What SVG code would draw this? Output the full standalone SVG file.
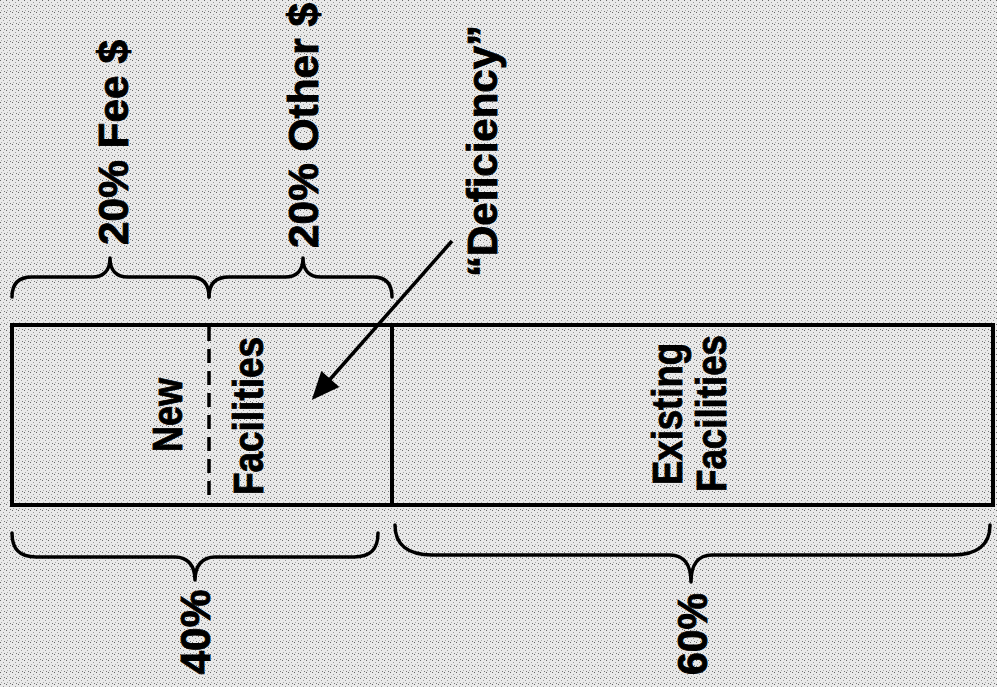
<svg xmlns="http://www.w3.org/2000/svg" width="997" height="687" viewBox="0 0 997 687">
<style>
.lbl{font-family:"Liberation Sans",Arial,Helvetica,sans-serif;font-weight:bold;font-size:42px;fill:#000;stroke:#000;stroke-width:0.9;text-anchor:middle}
.box{fill:none;stroke:#000;stroke-width:4}
.brace{fill:none;stroke:#000;stroke-width:3.5;stroke-linecap:round;stroke-linejoin:round}
.conn{fill:none;stroke:#000;stroke-width:3.5}
</style>
<defs>
<pattern id="stip" width="6" height="6" patternUnits="userSpaceOnUse">
<rect width="6" height="6" fill="#e9e9e9"/>
<rect x="0" y="0" width="1" height="1" fill="#666"/>
<rect x="3" y="2" width="1" height="1" fill="#999"/>
<rect x="1" y="4" width="1" height="1" fill="#aaa"/>
<rect x="4" y="5" width="1" height="1" fill="#777"/>
</pattern>
<marker id="ah" viewBox="-10 -14 32 28" refX="0" refY="0" markerWidth="32" markerHeight="28" markerUnits="userSpaceOnUse" orient="auto" overflow="visible">
<path d="M-8,-12 L20,0 L-8,12 Z" fill="#000"/>
</marker>
</defs>
<rect width="997" height="687" fill="url(#stip)"/>

<g id="new-facilities">
<rect class="box" x="12" y="325" width="380" height="180"/>
<line x1="209" y1="327" x2="209" y2="503" stroke="#000" stroke-width="3.5" stroke-dasharray="14 8"/>
<text class="lbl" transform="translate(182,415) rotate(-90)" textLength="74" lengthAdjust="spacingAndGlyphs">New</text>
<text class="lbl" transform="translate(263,416) rotate(-90)" textLength="158" lengthAdjust="spacingAndGlyphs">Facilities</text>
</g>

<g id="existing-facilities">
<rect class="box" x="392" y="325" width="601" height="180"/>
<text class="lbl" transform="translate(682,414) rotate(-90)" textLength="142" lengthAdjust="spacingAndGlyphs">Existing</text>
<text class="lbl" transform="translate(726,413.5) rotate(-90)" textLength="157" lengthAdjust="spacingAndGlyphs">Facilities</text>
</g>

<g id="fee-brace">
<path class="brace" d="M12,297 C12,284 18,277 32,277 L92,277 C104,277 110,270 110,258 C110,270 116,277 128,277 L190,277 C203,277 209,284 209,297"/>
<text class="lbl" transform="translate(128,142.5) rotate(-90)" textLength="205" lengthAdjust="spacingAndGlyphs">20% Fee $</text>
</g>

<g id="other-brace">
<path class="brace" d="M209,297 C209,284 215,277 229,277 L285,277 C297,277 303,270 303,258 C303,270 309,277 321,277 L373,277 C386,277 392,284 392,297"/>
<text class="lbl" transform="translate(318,125.5) rotate(-90)" textLength="245" lengthAdjust="spacingAndGlyphs">20% Other $</text>
</g>

<g id="deficiency">
<text class="lbl" transform="translate(497,151) rotate(-90)" textLength="252" lengthAdjust="spacingAndGlyphs">“Deficiency”</text>
</g>

<g id="pct40-brace">
<path class="brace" d="M12,533 C12,550 20,557 36,557 L175,557 C188,557 195,566 195,580 C195,566 202,557 215,557 L354,557 C370,557 378,550 378,533"/>
<text class="lbl" transform="translate(210,632) rotate(-90)" textLength="85" lengthAdjust="spacingAndGlyphs">40%</text>
</g>

<g id="pct60-brace">
<path class="brace" d="M395,525 C395,545 408,555 432,555 L670,555 C684,555 691,565 691,582 C691,565 698,555 712,555 L953,555 C977,555 990,545 990,525"/>
<text class="lbl" transform="translate(707,634) rotate(-90)" textLength="82" lengthAdjust="spacingAndGlyphs">60%</text>
</g>

<g id="connectors">
<line class="conn" x1="452" y1="241" x2="325" y2="385" marker-end="url(#ah)"/>
</g>
</svg>
